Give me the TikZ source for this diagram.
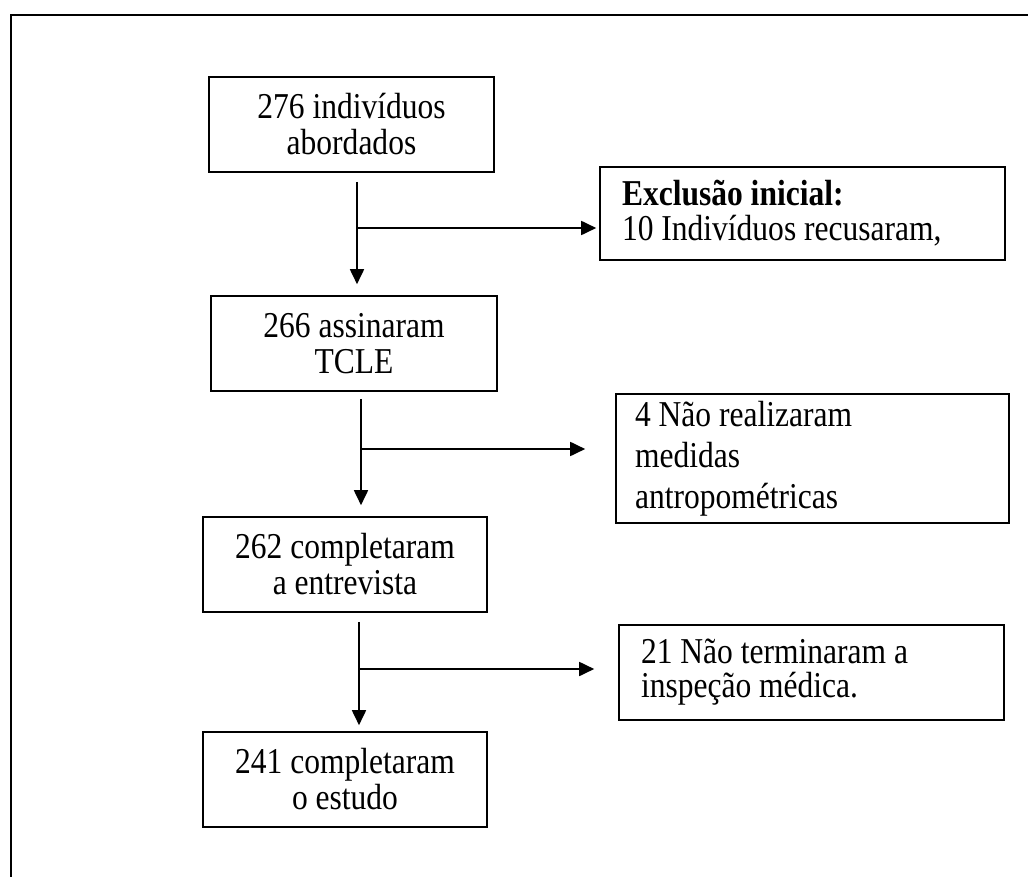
\documentclass[tikz,border=0pt]{standalone}
\usepackage{fontspec}
\setmainfont{Liberation Serif}[FakeStretch=0.866]
\usetikzlibrary{arrows.meta,calc}
\begin{document}
\begin{tikzpicture}[x=1pt,y=-1pt,
  flowbox/.style={draw=black,line width=1.6pt,inner sep=0pt,align=center,
    font=\fontsize{36.4}{36}\selectfont},
  sidebox/.style={draw=black,line width=1.6pt,inner ysep=0pt,align=flush left,
    font=\fontsize{36.4}{34}\selectfont},
  flowarrow/.style={line width=1.8pt,-{Triangle[length=15pt,width=14pt]}}]
\useasboundingbox (0,0) rectangle (1028,877);
\fill[white] (0,0) rectangle (1028,877);
\draw[line width=2pt] (11,877) -- (11,15) -- (1028,15);

\node[flowbox,minimum width=285pt,minimum height=95pt] (b1) at (351.5,124.5) {276 indivíduos\\abordados};
\node[flowbox,minimum width=286pt,minimum height=95pt] (b2) at (354,343.5) {266 assinaram\\TCLE};
\node[flowbox,minimum width=284pt,minimum height=95pt] (b3) at (345,564.5) {262 completaram\\a entrevista};
\node[flowbox,minimum width=284pt,minimum height=95pt] (b4) at (345,779.5) {241 completaram\\o estudo};

\node[sidebox,inner xsep=22pt,text width=361pt,minimum height=93pt,
  font=\fontsize{36.4}{35}\selectfont] (e1) at (802.5,213.5) {\textbf{Exclusão inicial:}\\10 Indivíduos recusaram,};
\node[sidebox,inner xsep=19pt,text width=355pt,minimum height=129pt,
  font=\fontsize{36.4}{41}\selectfont] (e2) at (812.5,458.5) {4 Não realizaram\\medidas\\antropométricas};
\node[sidebox,inner xsep=22pt,text width=341pt,minimum height=95pt] (e3) at (811.5,672.5) {21 Não terminaram a\\inspeção médica.};

\coordinate (j1) at (357,228);
\coordinate (j2) at (361,449);
\coordinate (j3) at (359,669);

\draw[flowarrow] ($(b1.south -| j1)+(0,9)$) -- ($(b2.north -| j1)+(0,-11)$);
\draw[flowarrow] (j1) -- ($(e1.west |- j1)+(-3,0)$);
\draw[flowarrow] ($(b2.south -| j2)+(0,7)$) -- ($(b3.north -| j2)+(0,-11)$);
\draw[flowarrow] (j2) -- ($(e2.west |- j2)+(-30,0)$);
\draw[flowarrow] ($(b3.south -| j3)+(0,9)$) -- ($(b4.north -| j3)+(0,-6)$);
\draw[flowarrow] (j3) -- ($(e3.west |- j3)+(-24,0)$);
\end{tikzpicture}
\end{document}
